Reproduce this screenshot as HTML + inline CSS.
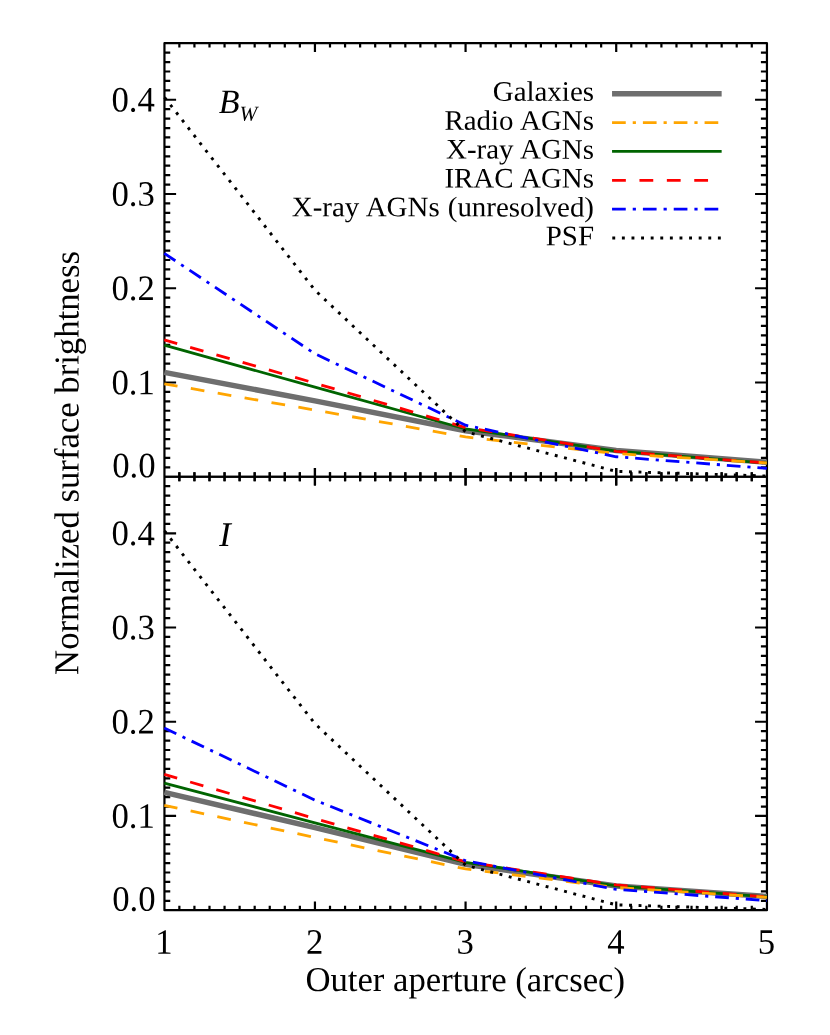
<!DOCTYPE html>
<html><head><meta charset="utf-8"><title>Normalized surface brightness</title>
<style>
html,body{margin:0;padding:0;background:#fff;}
body{width:830px;height:1035px;position:relative;overflow:hidden;font-family:"Liberation Serif",serif;}
</style></head><body>
<svg width="830" height="1035" viewBox="0 0 830 1035" style="display:block;position:absolute;left:0;top:0;will-change:transform">
<rect x="0" y="0" width="830" height="1035" fill="#fff"/>
<rect x="164.45" y="43.20" width="602.50" height="867.00" fill="none" stroke="#000" stroke-width="2.2" stroke-linejoin="round"/>
<path d="M164.30 476.75L766.85 476.75M179.36 43.20L179.36 47.60M179.36 472.35L179.36 481.15M179.36 910.20L179.36 905.80M194.43 43.20L194.43 47.60M194.43 472.35L194.43 481.15M194.43 910.20L194.43 905.80M209.49 43.20L209.49 47.60M209.49 472.35L209.49 481.15M209.49 910.20L209.49 905.80M224.56 43.20L224.56 47.60M224.56 472.35L224.56 481.15M224.56 910.20L224.56 905.80M239.62 43.20L239.62 47.60M239.62 472.35L239.62 481.15M239.62 910.20L239.62 905.80M254.68 43.20L254.68 47.60M254.68 472.35L254.68 481.15M254.68 910.20L254.68 905.80M269.75 43.20L269.75 47.60M269.75 472.35L269.75 481.15M269.75 910.20L269.75 905.80M284.81 43.20L284.81 47.60M284.81 472.35L284.81 481.15M284.81 910.20L284.81 905.80M299.87 43.20L299.87 47.60M299.87 472.35L299.87 481.15M299.87 910.20L299.87 905.80M314.94 43.20L314.94 51.90M314.94 468.05L314.94 485.45M314.94 910.20L314.94 901.50M330.00 43.20L330.00 47.60M330.00 472.35L330.00 481.15M330.00 910.20L330.00 905.80M345.07 43.20L345.07 47.60M345.07 472.35L345.07 481.15M345.07 910.20L345.07 905.80M360.13 43.20L360.13 47.60M360.13 472.35L360.13 481.15M360.13 910.20L360.13 905.80M375.19 43.20L375.19 47.60M375.19 472.35L375.19 481.15M375.19 910.20L375.19 905.80M390.26 43.20L390.26 47.60M390.26 472.35L390.26 481.15M390.26 910.20L390.26 905.80M405.32 43.20L405.32 47.60M405.32 472.35L405.32 481.15M405.32 910.20L405.32 905.80M420.38 43.20L420.38 47.60M420.38 472.35L420.38 481.15M420.38 910.20L420.38 905.80M435.45 43.20L435.45 47.60M435.45 472.35L435.45 481.15M435.45 910.20L435.45 905.80M450.51 43.20L450.51 47.60M450.51 472.35L450.51 481.15M450.51 910.20L450.51 905.80M465.57 43.20L465.57 51.90M465.57 468.05L465.57 485.45M465.57 910.20L465.57 901.50M480.64 43.20L480.64 47.60M480.64 472.35L480.64 481.15M480.64 910.20L480.64 905.80M495.70 43.20L495.70 47.60M495.70 472.35L495.70 481.15M495.70 910.20L495.70 905.80M510.77 43.20L510.77 47.60M510.77 472.35L510.77 481.15M510.77 910.20L510.77 905.80M525.83 43.20L525.83 47.60M525.83 472.35L525.83 481.15M525.83 910.20L525.83 905.80M540.89 43.20L540.89 47.60M540.89 472.35L540.89 481.15M540.89 910.20L540.89 905.80M555.96 43.20L555.96 47.60M555.96 472.35L555.96 481.15M555.96 910.20L555.96 905.80M571.02 43.20L571.02 47.60M571.02 472.35L571.02 481.15M571.02 910.20L571.02 905.80M586.09 43.20L586.09 47.60M586.09 472.35L586.09 481.15M586.09 910.20L586.09 905.80M601.15 43.20L601.15 47.60M601.15 472.35L601.15 481.15M601.15 910.20L601.15 905.80M616.21 43.20L616.21 51.90M616.21 468.05L616.21 485.45M616.21 910.20L616.21 901.50M631.28 43.20L631.28 47.60M631.28 472.35L631.28 481.15M631.28 910.20L631.28 905.80M646.34 43.20L646.34 47.60M646.34 472.35L646.34 481.15M646.34 910.20L646.34 905.80M661.40 43.20L661.40 47.60M661.40 472.35L661.40 481.15M661.40 910.20L661.40 905.80M676.47 43.20L676.47 47.60M676.47 472.35L676.47 481.15M676.47 910.20L676.47 905.80M691.53 43.20L691.53 47.60M691.53 472.35L691.53 481.15M691.53 910.20L691.53 905.80M706.60 43.20L706.60 47.60M706.60 472.35L706.60 481.15M706.60 910.20L706.60 905.80M721.66 43.20L721.66 47.60M721.66 472.35L721.66 481.15M721.66 910.20L721.66 905.80M736.72 43.20L736.72 47.60M736.72 472.35L736.72 481.15M736.72 910.20L736.72 905.80M751.79 43.20L751.79 47.60M751.79 472.35L751.79 481.15M751.79 910.20L751.79 905.80M164.30 467.32L170.25 467.32M766.85 467.32L760.90 467.32M164.30 457.90L170.25 457.90M766.85 457.90L760.90 457.90M164.30 448.48L170.25 448.48M766.85 448.48L760.90 448.48M164.30 439.05L170.25 439.05M766.85 439.05L760.90 439.05M164.30 429.62L170.25 429.62M766.85 429.62L760.90 429.62M164.30 420.20L170.25 420.20M766.85 420.20L760.90 420.20M164.30 410.77L170.25 410.77M766.85 410.77L760.90 410.77M164.30 401.35L170.25 401.35M766.85 401.35L760.90 401.35M164.30 391.93L170.25 391.93M766.85 391.93L760.90 391.93M164.30 382.50L176.10 382.50M766.85 382.50L755.05 382.50M164.30 373.07L170.25 373.07M766.85 373.07L760.90 373.07M164.30 363.65L170.25 363.65M766.85 363.65L760.90 363.65M164.30 354.23L170.25 354.23M766.85 354.23L760.90 354.23M164.30 344.80L170.25 344.80M766.85 344.80L760.90 344.80M164.30 335.38L170.25 335.38M766.85 335.38L760.90 335.38M164.30 325.95L170.25 325.95M766.85 325.95L760.90 325.95M164.30 316.52L170.25 316.52M766.85 316.52L760.90 316.52M164.30 307.10L170.25 307.10M766.85 307.10L760.90 307.10M164.30 297.68L170.25 297.68M766.85 297.68L760.90 297.68M164.30 288.25L176.10 288.25M766.85 288.25L755.05 288.25M164.30 278.82L170.25 278.82M766.85 278.82L760.90 278.82M164.30 269.40L170.25 269.40M766.85 269.40L760.90 269.40M164.30 259.98L170.25 259.98M766.85 259.98L760.90 259.98M164.30 250.55L170.25 250.55M766.85 250.55L760.90 250.55M164.30 241.12L170.25 241.12M766.85 241.12L760.90 241.12M164.30 231.70L170.25 231.70M766.85 231.70L760.90 231.70M164.30 222.27L170.25 222.27M766.85 222.27L760.90 222.27M164.30 212.85L170.25 212.85M766.85 212.85L760.90 212.85M164.30 203.43L170.25 203.43M766.85 203.43L760.90 203.43M164.30 194.00L176.10 194.00M766.85 194.00L755.05 194.00M164.30 184.58L170.25 184.58M766.85 184.58L760.90 184.58M164.30 175.15L170.25 175.15M766.85 175.15L760.90 175.15M164.30 165.72L170.25 165.72M766.85 165.72L760.90 165.72M164.30 156.30L170.25 156.30M766.85 156.30L760.90 156.30M164.30 146.88L170.25 146.88M766.85 146.88L760.90 146.88M164.30 137.45L170.25 137.45M766.85 137.45L760.90 137.45M164.30 128.03L170.25 128.03M766.85 128.03L760.90 128.03M164.30 118.60L170.25 118.60M766.85 118.60L760.90 118.60M164.30 109.17L170.25 109.17M766.85 109.17L760.90 109.17M164.30 99.75L176.10 99.75M766.85 99.75L755.05 99.75M164.30 90.33L170.25 90.33M766.85 90.33L760.90 90.33M164.30 80.90L170.25 80.90M766.85 80.90L760.90 80.90M164.30 71.48L170.25 71.48M766.85 71.48L760.90 71.48M164.30 62.05L170.25 62.05M766.85 62.05L760.90 62.05M164.30 52.62L170.25 52.62M766.85 52.62L760.90 52.62M164.30 900.78L170.25 900.78M766.85 900.78L760.90 900.78M164.30 891.35L170.25 891.35M766.85 891.35L760.90 891.35M164.30 881.93L170.25 881.93M766.85 881.93L760.90 881.93M164.30 872.51L170.25 872.51M766.85 872.51L760.90 872.51M164.30 863.09L170.25 863.09M766.85 863.09L760.90 863.09M164.30 853.66L170.25 853.66M766.85 853.66L760.90 853.66M164.30 844.24L170.25 844.24M766.85 844.24L760.90 844.24M164.30 834.82L170.25 834.82M766.85 834.82L760.90 834.82M164.30 825.39L170.25 825.39M766.85 825.39L760.90 825.39M164.30 815.97L176.10 815.97M766.85 815.97L755.05 815.97M164.30 806.55L170.25 806.55M766.85 806.55L760.90 806.55M164.30 797.13L170.25 797.13M766.85 797.13L760.90 797.13M164.30 787.70L170.25 787.70M766.85 787.70L760.90 787.70M164.30 778.28L170.25 778.28M766.85 778.28L760.90 778.28M164.30 768.86L170.25 768.86M766.85 768.86L760.90 768.86M164.30 759.43L170.25 759.43M766.85 759.43L760.90 759.43M164.30 750.01L170.25 750.01M766.85 750.01L760.90 750.01M164.30 740.59L170.25 740.59M766.85 740.59L760.90 740.59M164.30 731.17L170.25 731.17M766.85 731.17L760.90 731.17M164.30 721.74L176.10 721.74M766.85 721.74L755.05 721.74M164.30 712.32L170.25 712.32M766.85 712.32L760.90 712.32M164.30 702.90L170.25 702.90M766.85 702.90L760.90 702.90M164.30 693.48L170.25 693.48M766.85 693.48L760.90 693.48M164.30 684.05L170.25 684.05M766.85 684.05L760.90 684.05M164.30 674.63L170.25 674.63M766.85 674.63L760.90 674.63M164.30 665.21L170.25 665.21M766.85 665.21L760.90 665.21M164.30 655.78L170.25 655.78M766.85 655.78L760.90 655.78M164.30 646.36L170.25 646.36M766.85 646.36L760.90 646.36M164.30 636.94L170.25 636.94M766.85 636.94L760.90 636.94M164.30 627.52L176.10 627.52M766.85 627.52L755.05 627.52M164.30 618.09L170.25 618.09M766.85 618.09L760.90 618.09M164.30 608.67L170.25 608.67M766.85 608.67L760.90 608.67M164.30 599.25L170.25 599.25M766.85 599.25L760.90 599.25M164.30 589.82L170.25 589.82M766.85 589.82L760.90 589.82M164.30 580.40L170.25 580.40M766.85 580.40L760.90 580.40M164.30 570.98L170.25 570.98M766.85 570.98L760.90 570.98M164.30 561.56L170.25 561.56M766.85 561.56L760.90 561.56M164.30 552.13L170.25 552.13M766.85 552.13L760.90 552.13M164.30 542.71L170.25 542.71M766.85 542.71L760.90 542.71M164.30 533.29L176.10 533.29M766.85 533.29L755.05 533.29M164.30 523.86L170.25 523.86M766.85 523.86L760.90 523.86M164.30 514.44L170.25 514.44M766.85 514.44L760.90 514.44M164.30 505.02L170.25 505.02M766.85 505.02L760.90 505.02M164.30 495.60L170.25 495.60M766.85 495.60L760.90 495.60M164.30 486.17L170.25 486.17M766.85 486.17L760.90 486.17" fill="none" stroke="#000" stroke-width="2.2"/>
<polyline points="164.30,372.42 314.94,400.88 465.57,430.76 616.21,450.55 766.85,462.14" fill="none" stroke="#6e6e6e" stroke-width="5.5" stroke-linejoin="miter"/>
<polyline points="164.30,345.18 314.94,387.12 465.57,428.97 616.21,451.02 766.85,462.99" fill="none" stroke="#006400" stroke-width="2.75" stroke-linejoin="miter"/>
<polyline points="164.30,339.90 314.94,383.16 465.57,427.55 616.21,451.30 766.85,462.99" fill="none" stroke="#ff0000" stroke-width="2.8" stroke-linejoin="miter" stroke-dasharray="13.8 13.5" stroke-dashoffset="0.4"/>
<polyline points="164.30,383.82 314.94,410.12 465.57,436.98 616.21,453.56 766.85,462.99" fill="none" stroke="#ffa500" stroke-width="2.8" stroke-linejoin="miter" stroke-dasharray="13.8 13.5" stroke-dashoffset="0.4"/>
<polyline points="164.30,253.38 314.94,353.75 465.57,425.20 616.21,456.77 766.85,468.36" fill="none" stroke="#0000ff" stroke-width="2.8" stroke-linejoin="miter" stroke-dasharray="13.7 6.9 3.15 6.9" stroke-dashoffset="0.4"/>
<polyline points="164.30,97.11 314.94,290.23 465.57,431.79 616.21,471.38 766.85,476.00" fill="none" stroke="#000000" stroke-width="2.9" stroke-linejoin="miter" stroke-dasharray="2.9 6.635" stroke-dashoffset="-0.4"/>
<path d="M164.30 476.75L766.85 476.75M179.36 472.35L179.36 481.15M194.43 472.35L194.43 481.15M209.49 472.35L209.49 481.15M224.56 472.35L224.56 481.15M239.62 472.35L239.62 481.15M254.68 472.35L254.68 481.15M269.75 472.35L269.75 481.15M284.81 472.35L284.81 481.15M299.87 472.35L299.87 481.15M314.94 468.05L314.94 485.45M330.00 472.35L330.00 481.15M345.07 472.35L345.07 481.15M360.13 472.35L360.13 481.15M375.19 472.35L375.19 481.15M390.26 472.35L390.26 481.15M405.32 472.35L405.32 481.15M420.38 472.35L420.38 481.15M435.45 472.35L435.45 481.15M450.51 472.35L450.51 481.15M465.57 468.05L465.57 485.45M480.64 472.35L480.64 481.15M495.70 472.35L495.70 481.15M510.77 472.35L510.77 481.15M525.83 472.35L525.83 481.15M540.89 472.35L540.89 481.15M555.96 472.35L555.96 481.15M571.02 472.35L571.02 481.15M586.09 472.35L586.09 481.15M601.15 472.35L601.15 481.15M616.21 468.05L616.21 485.45M631.28 472.35L631.28 481.15M646.34 472.35L646.34 481.15M661.40 472.35L661.40 481.15M676.47 472.35L676.47 481.15M691.53 472.35L691.53 481.15M706.60 472.35L706.60 481.15M721.66 472.35L721.66 481.15M736.72 472.35L736.72 481.15M751.79 472.35L751.79 481.15" fill="none" stroke="#000" stroke-width="2.2"/>
<polyline points="164.30,792.41 314.94,827.66 465.57,864.41 616.21,885.89 766.85,896.54" fill="none" stroke="#6e6e6e" stroke-width="5.5" stroke-linejoin="miter"/>
<polyline points="164.30,783.09 314.94,822.85 465.57,862.33 616.21,885.79 766.85,896.91" fill="none" stroke="#006400" stroke-width="2.75" stroke-linejoin="miter"/>
<polyline points="164.30,774.42 314.94,818.52 465.57,861.77 616.21,884.95 766.85,896.91" fill="none" stroke="#ff0000" stroke-width="2.8" stroke-linejoin="miter" stroke-dasharray="13.8 13.5" stroke-dashoffset="0.4"/>
<polyline points="164.30,805.32 314.94,837.46 465.57,868.93 616.21,887.49 766.85,897.29" fill="none" stroke="#ffa500" stroke-width="2.8" stroke-linejoin="miter" stroke-dasharray="13.8 13.5" stroke-dashoffset="0.4"/>
<polyline points="164.30,728.06 314.94,800.14 465.57,860.73 616.21,889.38 766.85,900.59" fill="none" stroke="#0000ff" stroke-width="2.8" stroke-linejoin="miter" stroke-dasharray="13.7 6.9 3.15 6.9" stroke-dashoffset="0.4"/>
<polyline points="164.30,530.65 314.94,723.72 465.57,865.25 616.21,904.83 766.85,909.45" fill="none" stroke="#000000" stroke-width="2.9" stroke-linejoin="miter" stroke-dasharray="2.9 6.635" stroke-dashoffset="-0.4"/>
<g font-family="'Liberation Serif', serif" fill="#000" text-rendering="geometricPrecision">
<text transform="translate(155.50,477.30) rotate(0.04) scale(0.9709,1)" font-size="35.74" text-anchor="end" >0.0</text>
<text transform="translate(154.80,394.35) rotate(0.04) scale(0.9709,1)" font-size="35.74" text-anchor="end" >0.1</text>
<text transform="translate(154.80,300.10) rotate(0.04) scale(0.9709,1)" font-size="35.74" text-anchor="end" >0.2</text>
<text transform="translate(154.80,205.85) rotate(0.04) scale(0.9709,1)" font-size="35.74" text-anchor="end" >0.3</text>
<text transform="translate(154.80,111.60) rotate(0.04) scale(0.9709,1)" font-size="35.74" text-anchor="end" >0.4</text>
<text transform="translate(155.50,910.75) rotate(0.04) scale(0.9709,1)" font-size="35.74" text-anchor="end" >0.0</text>
<text transform="translate(154.80,827.82) rotate(0.04) scale(0.9709,1)" font-size="35.74" text-anchor="end" >0.1</text>
<text transform="translate(154.80,733.59) rotate(0.04) scale(0.9709,1)" font-size="35.74" text-anchor="end" >0.2</text>
<text transform="translate(154.80,639.37) rotate(0.04) scale(0.9709,1)" font-size="35.74" text-anchor="end" >0.3</text>
<text transform="translate(154.80,545.14) rotate(0.04) scale(0.9709,1)" font-size="35.74" text-anchor="end" >0.4</text>
<text transform="translate(164.00,953.80) rotate(0.04) scale(0.9709,1)" font-size="35.74" text-anchor="middle" >1</text>
<text transform="translate(314.64,953.80) rotate(0.04) scale(0.9709,1)" font-size="35.74" text-anchor="middle" >2</text>
<text transform="translate(465.27,953.80) rotate(0.04) scale(0.9709,1)" font-size="35.74" text-anchor="middle" >3</text>
<text transform="translate(615.91,953.80) rotate(0.04) scale(0.9709,1)" font-size="35.74" text-anchor="middle" >4</text>
<text transform="translate(766.55,953.80) rotate(0.04) scale(0.9709,1)" font-size="35.74" text-anchor="middle" >5</text>
<text transform="translate(465.20,991.15) rotate(0.04) scale(0.9950,1)" font-size="34.87" text-anchor="middle" >Outer aperture (arcsec)</text>
<text transform="translate(78.5,463.0) rotate(-89.95) scale(0.9950,1)" font-size="34.87" text-anchor="middle">Normalized surface brightness</text>
<text transform="translate(218.8,112.9) rotate(0.04)" font-size="34.0" font-style="italic">B<tspan font-size="21.4" dy="7.9">W</tspan></text>
<text transform="translate(219.3,545.9) rotate(0.04)" font-size="34.70" font-style="italic">I</text>
<text transform="translate(594.00,100.85) rotate(0.04) scale(1.0256,1)" font-size="28.23" text-anchor="end" word-spacing="0.8">Galaxies</text>
<text transform="translate(594.00,129.75) rotate(0.04) scale(1.0256,1)" font-size="28.23" text-anchor="end" word-spacing="0.8">Radio AGNs</text>
<text transform="translate(594.00,158.65) rotate(0.04) scale(1.0256,1)" font-size="28.23" text-anchor="end" word-spacing="0.8">X-ray AGNs</text>
<text transform="translate(594.00,187.55) rotate(0.04) scale(1.0256,1)" font-size="28.23" text-anchor="end" word-spacing="0.8">IRAC AGNs</text>
<text transform="translate(594.00,216.45) rotate(0.04) scale(1.0256,1)" font-size="28.23" text-anchor="end" word-spacing="0.8">X-ray AGNs (unresolved)</text>
<text transform="translate(594.00,245.35) rotate(0.04) scale(1.0256,1)" font-size="28.23" text-anchor="end" word-spacing="0.8">PSF</text>
</g>
<line x1="612.05" y1="93.70" x2="721.65" y2="93.70" stroke="#6e6e6e" stroke-width="5.5"/>
<line x1="612.05" y1="122.57" x2="721.65" y2="122.57" stroke="#ffa500" stroke-width="2.8" stroke-dasharray="13.7 6.97 3.2 6.97" stroke-dashoffset="0"/>
<line x1="612.05" y1="151.44" x2="721.65" y2="151.44" stroke="#006400" stroke-width="2.75"/>
<line x1="612.05" y1="180.31" x2="721.65" y2="180.31" stroke="#ff0000" stroke-width="2.8" stroke-dasharray="13.8 13.6" stroke-dashoffset="0"/>
<line x1="612.05" y1="209.18" x2="721.65" y2="209.18" stroke="#0000ff" stroke-width="2.8" stroke-dasharray="13.7 6.97 3.2 6.97" stroke-dashoffset="0"/>
<line x1="612.05" y1="238.05" x2="721.65" y2="238.05" stroke="#000" stroke-width="2.9" stroke-dasharray="2.9 6.7" stroke-dashoffset="-0.25"/>
</svg>
</body></html>
